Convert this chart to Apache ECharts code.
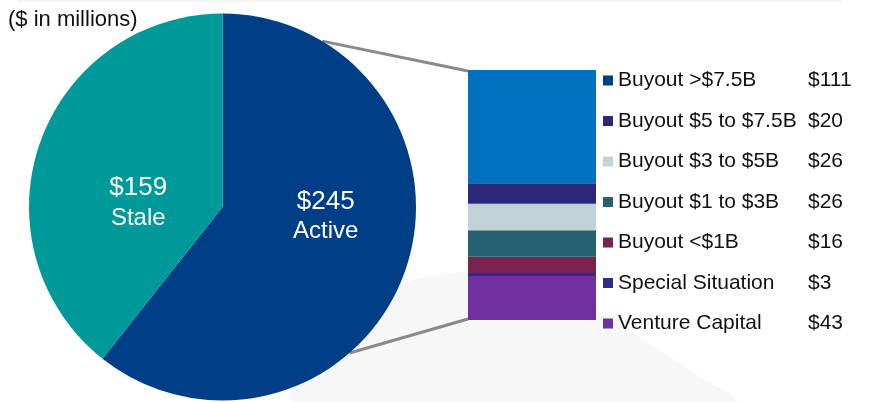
<!DOCTYPE html>
<html>
<head>
<meta charset="utf-8">
<script src="https://cdn.jsdelivr.net/npm/echarts@6/dist/echarts.min.js"></script>
<style>
  html, body { margin: 0; padding: 0; background: #fff; }
  #main { width: 884px; height: 402px; }
</style>
</head>
<body>
<div id="main"></div>
<script>
const chart = echarts.init(document.getElementById('main'))

// pie: total portfolio
const pieNames = ['Active', 'Stale']
const pieValues = [245, 159]
const pieColors = ['#003f87', '#009999']

// bar: breakdown of active, listed top to bottom
const catNames = ['Buyout >$7.5B', 'Buyout $5 to $7.5B', 'Buyout $3 to $5B', 'Buyout $1 to $3B', 'Buyout <$1B', 'Special Situation', 'Venture Capital']
const catValues = [111, 20, 26, 26, 16, 3, 43]
const barColors = ['#0070c0', '#29287a', '#c2d3d7', '#256171', '#7a214d', '#2e2b8a', '#7030a0']
const legendColors = ['#003f87', '#29287a', '#c2d3d7', '#256171', '#7a214d', '#2e2b8a', '#7030a0']

const font = 'Liberation Sans, Arial, sans-serif'
const pieCenter = [222.5, 207]
const pieRadius = 193.5

// stack from the bottom up, so reverse the list
let barSeries = []
for (let i = catNames.length - 1; i >= 0; i--) {
  barSeries.push({
    name: catNames[i],
    type: 'bar',
    stack: 'active',
    barWidth: '100%',
    silent: true,
    itemStyle: { color: barColors[i] },
    data: [catValues[i]]
  })
}

const labelOffsets = [[9, -23], [10, 29]]

let option = {
  backgroundColor: '#fff',
  animation: false,
  title: {
    text: '($ in millions)',
    left: 3,
    top: 4,
    textStyle: { color: '#111', fontFamily: font, fontSize: 22, fontWeight: 'normal' }
  },
  legend: {
    orient: 'vertical',
    left: 598,
    top: 65,
    itemWidth: 10,
    itemHeight: 10,
    itemGap: 19.5,
    icon: 'rect',
    selectedMode: false,
    data: catNames.map((n, i) => ({ name: n, itemStyle: { color: legendColors[i] } })),
    formatter: (name) => {
      let i = catNames.indexOf(name)
      return '{n|' + name + '}{v|$' + catValues[i] + '}'
    },
    textStyle: {
      color: '#111',
      fontFamily: font,
      fontSize: 21,
      lineHeight: 20,
      rich: {
        n: { width: 190, fontSize: 21, lineHeight: 20, fontFamily: font, color: '#111' },
        v: { fontSize: 21, lineHeight: 20, fontFamily: font, color: '#111' }
      }
    }
  },
  grid: { left: 468, top: 70, width: 128, height: 250 },
  xAxis: { type: 'category', data: ['Active'], show: false },
  yAxis: { type: 'value', min: 0, max: 245, show: false, splitLine: { show: false } },
  series: [
    {
      type: 'pie',
      center: pieCenter,
      radius: pieRadius,
      startAngle: 90,
      clockwise: true,
      silent: true,
      data: pieNames.map((n, i) => ({
        name: n,
        value: pieValues[i],
        itemStyle: { color: pieColors[i] },
        label: { offset: labelOffsets[i] }
      })),
      label: {
        show: true,
        position: 'inside',
        formatter: (p) => '$' + p.value + '\n{s|' + p.name + '}',
        color: '#fff',
        fontFamily: font,
        fontSize: 26,
        lineHeight: 30,
        align: 'center',
        rich: { s: { color: '#fff', fontFamily: font, fontSize: 24, lineHeight: 30 } }
      },
      labelLine: { show: false }
    }
  ].concat(barSeries)
}
chart.setOption(option)

// connector lines from the Active slice to the bar, plus the faint backdrop
function piePoint(deg) {
  let a = deg * Math.PI / 180
  return [pieCenter[0] + pieRadius * Math.sin(a), pieCenter[1] - pieRadius * Math.cos(a)]
}
let barTop = chart.convertToPixel({ gridIndex: 0 }, [0, 245])
let barBottom = chart.convertToPixel({ gridIndex: 0 }, [0, 0])
let barLeft = 468
let p1 = piePoint(31)
let p2 = piePoint(139)

chart.setOption({
  graphic: [
    {
      type: 'polygon',
      z: -10,
      silent: true,
      shape: {
        points: [[295, 402], [330, 330], [390, 288], [460, 272], [540, 282], [615, 322], [700, 377], [735, 402]],
        smooth: 0.3
      },
      style: { fill: '#f7f7f7' }
    },
    {
      type: 'line',
      z: -10,
      silent: true,
      shape: { x1: 18, y1: 1, x2: 841, y2: 1 },
      style: { stroke: '#f3f3f3', lineWidth: 2 }
    },
    {
      type: 'line',
      z: 1,
      silent: true,
      shape: { x1: p1[0], y1: p1[1], x2: barLeft, y2: barTop[1] + 1 },
      style: { stroke: '#898989', lineWidth: 3 }
    },
    {
      type: 'line',
      z: 1,
      silent: true,
      shape: { x1: p2[0], y1: p2[1], x2: barLeft, y2: barBottom[1] - 1 },
      style: { stroke: '#898989', lineWidth: 3 }
    }
  ]
})
</script>
</body>
</html>
